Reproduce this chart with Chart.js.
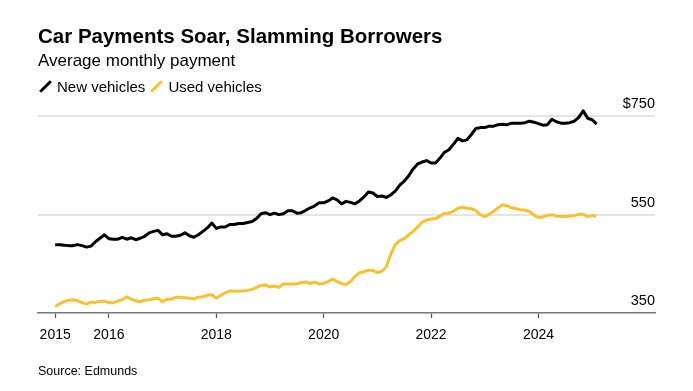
<!DOCTYPE html>
<html lang="en">
<head>
<meta charset="UTF-8">
<title>Car Payments Soar, Slamming Borrowers</title>
<script src="https://cdn.jsdelivr.net/npm/chart.js"></script>
<style>
  html, body { margin: 0; padding: 0; background: #fff; }
  body { width: 693px; height: 391px; position: relative; overflow: hidden; font-family: "Liberation Sans", Arial, sans-serif; color: #000; }
  #wrap { position: absolute; left: 0; top: 0; width: 693px; height: 391px; }
  .title { position: absolute; left: 38px; top: 24px; font-size: 20.5px; font-weight: bold; }
  .subtitle { position: absolute; left: 38px; top: 51px; font-size: 17px; }
  .legend { position: absolute; left: 38px; top: 78px; font-size: 15px; display: flex; align-items: center; }
  .legend .sw { display: inline-block; width: 3px; height: 15px; transform: rotate(45deg); margin: 0 10px 0 6px; }
  .legend .item { display: flex; align-items: center; margin-right: 4px; }
  .source { position: absolute; left: 38px; top: 364px; font-size: 12.5px; }
</style>
</head>
<body>
<div id="wrap"><canvas id="chart" width="693" height="391"></canvas></div>
<div class="title">Car Payments Soar, Slamming Borrowers</div>
<div class="subtitle">Average monthly payment</div>
<div class="legend">
  <span class="item"><span class="sw" style="background:#000"></span>New vehicles</span>
  <span class="item"><span class="sw" style="background:#f6c231"></span>Used vehicles</span>
</div>
<div class="source">Source: Edmunds</div>

<script>
// monthly averages, Jan 2015 to Feb 2025
const startYear = 2015;
const newVehicles = [
  489, 489, 488, 487, 487, 489, 487, 484, 486, 495, 502, 509,
  501, 500, 500, 504, 500, 503, 499, 502, 506, 513, 516, 518,
  509, 511, 506, 506, 508, 513, 507, 504, 509, 516, 523, 533,
  522, 525, 525, 530, 530, 532, 532, 534, 536, 542, 552, 554,
  550, 553, 550, 552, 558, 558, 553, 554, 559, 564, 568, 574,
  574, 578, 584, 580, 572, 577, 575, 572, 578, 586, 596, 594,
  587, 588, 585, 590, 598, 610, 618, 629, 643, 653, 657, 660,
  655, 655, 665, 677, 682, 693, 705, 700, 702, 713, 725, 727,
  727, 730, 730, 733, 734, 733, 736, 736, 736, 737, 740, 738,
  735, 732, 733, 744, 739, 736, 736, 737, 740, 748, 761, 746,
  743, 734
];
const usedVehicles = [
  363, 369, 373, 376, 377, 375, 371, 368, 372, 372, 374, 374,
  371, 371, 374, 377, 383, 378, 375, 373, 376, 377, 379, 380,
  373, 378, 378, 382, 382, 381, 380, 379, 382, 383, 386, 387,
  380, 386, 391, 395, 394, 394, 395, 396, 398, 402, 406, 407,
  403, 405, 402, 409, 409, 409, 409, 412, 413, 410, 413, 409,
  410, 414, 419, 414, 410, 408, 414, 424, 432, 434, 437, 437,
  432, 435, 444, 470, 489, 497, 501, 509, 516, 525, 535, 539,
  541, 542, 547, 553, 553, 557, 563, 565, 563, 562, 558, 550,
  546, 551, 557, 564, 570, 568, 564, 562, 560, 559, 556, 549,
  544, 545, 549, 550, 547, 546, 546, 547, 548, 551, 551, 546,
  548, 547
];
const yearTicks = [2015, 2016, 2018, 2020, 2022, 2024];
const valueTicks = [350, 550, 750];

function toPoints(values) {
  return values.map((v, i) => ({ x: startYear + i / 12, y: v }));
}

const ctx = document.getElementById('chart').getContext('2d');
new Chart(ctx, {
  type: 'line',
  data: {
    datasets: [
      { label: 'New vehicles', data: toPoints(newVehicles), borderColor: '#000', borderWidth: 3, pointRadius: 0, tension: 0, borderJoinStyle: 'round' },
      { label: 'Used vehicles', data: toPoints(usedVehicles), borderColor: '#f6c231', borderWidth: 3, pointRadius: 0, tension: 0, borderJoinStyle: 'round' }
    ]
  },
  options: {
    responsive: false,
    animation: false,
    events: [],
    layout: { padding: { left: 38, right: 38, top: 104, bottom: 0 } },
    plugins: { legend: { display: false }, tooltip: { enabled: false } },
    scales: {
      x: {
        type: 'linear',
        min: 2014.68,
        max: 2026.17,
        afterBuildTicks: s => { s.ticks = yearTicks.map(v => ({ value: v })); },
        afterFit: s => { s.height = 78; },
        border: { display: true, color: '#777', width: 1.5 },
        grid: { drawOnChartArea: false, drawTicks: true, tickLength: 5, tickColor: '#555', tickWidth: 1.2 },
        ticks: { padding: 9, color: '#000', font: { family: 'Liberation Sans', size: 14 }, callback: v => String(v) }
      },
      y: {
        position: 'right',
        min: 350,
        max: 775,
        afterBuildTicks: s => { s.ticks = valueTicks.map(v => ({ value: v })); },
        afterFit: s => { s.width = 0; },
        border: { display: false },
        grid: { drawTicks: false, lineWidth: 2, color: c => c.tick && c.tick.value === 350 ? 'rgba(0,0,0,0)' : '#e4e4e4' },
        ticks: {
          mirror: true, padding: 0, labelOffset: -12, color: '#000',
          font: { family: 'Liberation Sans', size: 14.5 },
          callback: v => (v === 750 ? '$' + v : String(v))
        }
      }
    }
  }
});
</script>
</body>
</html>
